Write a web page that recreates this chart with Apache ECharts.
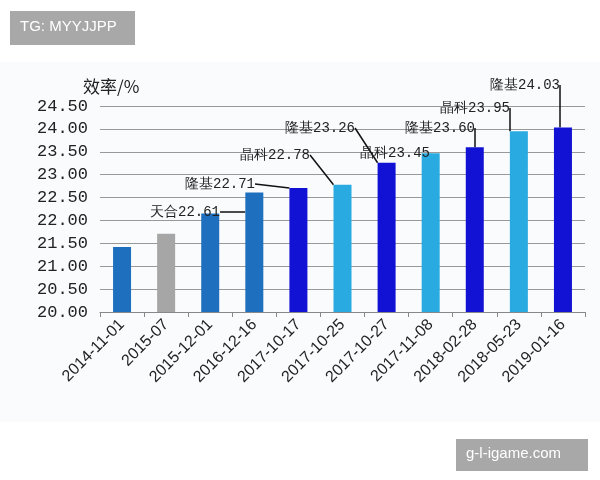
<!DOCTYPE html>
<html>
<head>
<meta charset="UTF-8">
<script src="https://cdn.jsdelivr.net/npm/echarts@6/dist/echarts.min.js"></script>
<style>body{margin:0;background:#fff}#c{width:600px;height:480px}</style>
</head>
<body>
<div id="c"></div>
<script>
const dates = ['2014-11-01','2015-07','2015-12-01','2016-12-16','2017-10-17','2017-10-25','2017-10-27','2017-11-08','2018-02-28','2018-05-23','2019-01-16'];
const values = [21.42, 21.71, 22.15, 22.61, 22.71, 22.78, 23.26, 23.47, 23.60, 23.95, 24.03];
const colors = ['#1f6fbf','#a6a6a6','#1f6fbf','#1f6fbf','#1212d4','#29abe2','#1212d4','#29abe2','#1212d4','#29abe2','#1212d4'];
const labels = ['','','','天合22.61','隆基22.71','晶科22.78','隆基23.26','晶科23.45','隆基23.60','晶科23.95','隆基24.03'];
// label positions (px) for annotations
const labelPos = [null,null,null,[150,212],[185,184],[240,155],[285,128],[360,153],[405,128],[440,108],[490,85]];

const chart = echarts.init(document.getElementById('c'));
chart.setOption({
  animation: false,
  grid: {left: 100, right: 15, top: 106, bottom: 168},
  graphic: [
    {type:'rect', shape:{x:0,y:62,width:600,height:360}, style:{fill:'#f9fbfc'}, z:-10},
    {type:'rect', shape:{x:10,y:11,width:125,height:34}, style:{fill:'#a8a8a8'}},
    {type:'text', x:20, y:19, style:{text:'TG: MYYJJPP', fill:'#fff', font:'15px "Liberation Sans"'}},
    {type:'rect', shape:{x:456,y:439,width:132,height:32}, style:{fill:'#a8a8a8'}},
    {type:'text', x:466, y:446, style:{text:'g-l-igame.com', fill:'#fff', font:'15px "Liberation Sans"'}},
    {type:'text', x:83, y:78, style:{text:'效率/%', fill:'#222', font:'17px "Noto Sans CJK SC"'}}
  ],
  xAxis: {
    type: 'category', data: dates,
    axisLine: {lineStyle: {color: '#888'}},
    axisTick: {show: true, length: 5, lineStyle: {color: '#888'}},
    axisLabel: {rotate: 45, color: '#222', fontSize: 16, fontFamily: 'Liberation Sans', interval: 0, margin: 10}
  },
  yAxis: {
    type: 'value', min: 20, max: 24.5, interval: 0.5,
    axisLabel: {formatter: v => v.toFixed(2), color: '#222', fontSize: 17, fontFamily: 'Liberation Mono', margin: 12},
    splitLine: {lineStyle: {color: '#999'}},
    axisLine: {show: false}, axisTick: {show: false}
  },
  series: [{
    type: 'bar', barWidth: 18,
    data: values.map((v, i) => ({
      value: v,
      itemStyle: {color: colors[i]},
      label: labels[i] ? {show: true, formatter: labels[i], position: 'top', color: '#222', fontSize: 14, fontFamily: 'Liberation Mono'} : {show: false},
      labelLine: {show: true, lineStyle: {color: '#111', width: 1.5}}
    })),
    labelLayout: p => {
      const pos = labelPos[p.dataIndex];
      return pos ? {x: pos[0], y: pos[1], align: 'left', verticalAlign: 'middle'} : {};
    }
  }]
});
</script>
</body>
</html>
